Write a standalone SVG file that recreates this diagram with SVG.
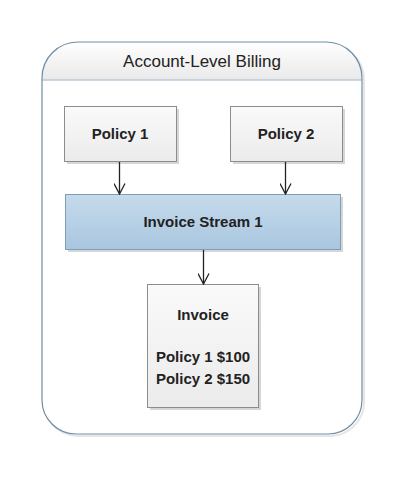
<svg xmlns="http://www.w3.org/2000/svg" width="405" height="480" viewBox="0 0 405 480">
<defs>
<linearGradient id="gBox" x1="0" y1="0" x2="0" y2="1"><stop offset="0" stop-color="#fafafa"/><stop offset="1" stop-color="#ebebeb"/></linearGradient>
<linearGradient id="gHead" x1="0" y1="0" x2="0" y2="1"><stop offset="0" stop-color="#ffffff"/><stop offset="1" stop-color="#e9e9e9"/></linearGradient>
<linearGradient id="gStream" x1="0" y1="0" x2="0" y2="1"><stop offset="0" stop-color="#c6dbec"/><stop offset="1" stop-color="#a8c6df"/></linearGradient>
<marker id="arr" viewBox="0 0 12 12" refX="11" refY="6" markerWidth="12" markerHeight="12" markerUnits="userSpaceOnUse" orient="auto">
<path d="M0.5,0.5 L11,6 L0.5,11.5" fill="none" stroke="#222" stroke-width="1.3"/>
</marker>
<clipPath id="outerClip"><path d="M42,78 A36,36 0 0 1 78,42 L326,42 A36,36 0 0 1 362,78 L362,400 A34,34 0 0 1 328,434 L76,434 A34,34 0 0 1 42,400 Z"/></clipPath>
</defs>
<style>
.box{stroke:#8c8c8c;stroke-width:1;fill:url(#gBox)}
.shadow{fill:#d6d6d6}
.lbl{font-family:"Liberation Sans",Arial,sans-serif;font-size:15px;font-weight:bold;fill:#222;text-anchor:middle}
.title{font-family:"Liberation Sans",Arial,sans-serif;font-size:17px;fill:#222;text-anchor:middle}
.conn{stroke:#222;stroke-width:1.3;fill:none}
</style>
<g id="container">
<path d="M44,80 A36,36 0 0 1 80,44 L328,44 A36,36 0 0 1 364,80 L364,402 A34,34 0 0 1 330,436 L78,436 A34,34 0 0 1 44,402 Z" fill="none" stroke="#e6e6e6" stroke-width="2"/>
<path d="M42,78 A36,36 0 0 1 78,42 L326,42 A36,36 0 0 1 362,78 L362,400 A34,34 0 0 1 328,434 L76,434 A34,34 0 0 1 42,400 Z" fill="#ffffff"/>
<rect x="42" y="42" width="320" height="38" fill="url(#gHead)" clip-path="url(#outerClip)"/>
<line x1="42" y1="80" x2="362" y2="80" stroke="#b9c9d6" stroke-width="1.5"/>
<path d="M42,78 A36,36 0 0 1 78,42 L326,42 A36,36 0 0 1 362,78 L362,400 A34,34 0 0 1 328,434 L76,434 A34,34 0 0 1 42,400 Z" fill="none" stroke="#6f8ea6" stroke-width="1.2"/>
<text class="title" x="202" y="67">Account-Level Billing</text>
</g>
<g id="policy1">
<rect class="shadow" x="67" y="109" width="112" height="55"/>
<rect class="box" x="64.5" y="106.5" width="112" height="55"/>
<text class="lbl" x="120" y="139">Policy 1</text>
</g>
<g id="policy2">
<rect class="shadow" x="233" y="109" width="112" height="55"/>
<rect class="box" x="230.5" y="106.5" width="112" height="55"/>
<text class="lbl" x="286" y="139">Policy 2</text>
</g>
<g id="stream">
<rect class="shadow" x="68" y="197" width="275" height="55"/>
<rect x="65.5" y="194.5" width="275" height="55" fill="url(#gStream)" stroke="#7f9db5" stroke-width="1"/>
<text class="lbl" x="203" y="227">Invoice Stream 1</text>
</g>
<g id="invoice">
<rect class="shadow" x="150" y="287" width="111" height="123"/>
<rect class="box" x="147.5" y="284.5" width="111" height="123"/>
<text class="lbl" x="203" y="320">Invoice</text>
<text class="lbl" x="203" y="362">Policy 1 $100</text>
<text class="lbl" x="203" y="384">Policy 2 $150</text>
</g>
<g id="connectors">
<line class="conn" x1="119.5" y1="162" x2="119.5" y2="194" marker-end="url(#arr)"/>
<line class="conn" x1="285.5" y1="162" x2="285.5" y2="194" marker-end="url(#arr)"/>
<line class="conn" x1="203.5" y1="250" x2="203.5" y2="284" marker-end="url(#arr)"/>
</g>
</svg>
